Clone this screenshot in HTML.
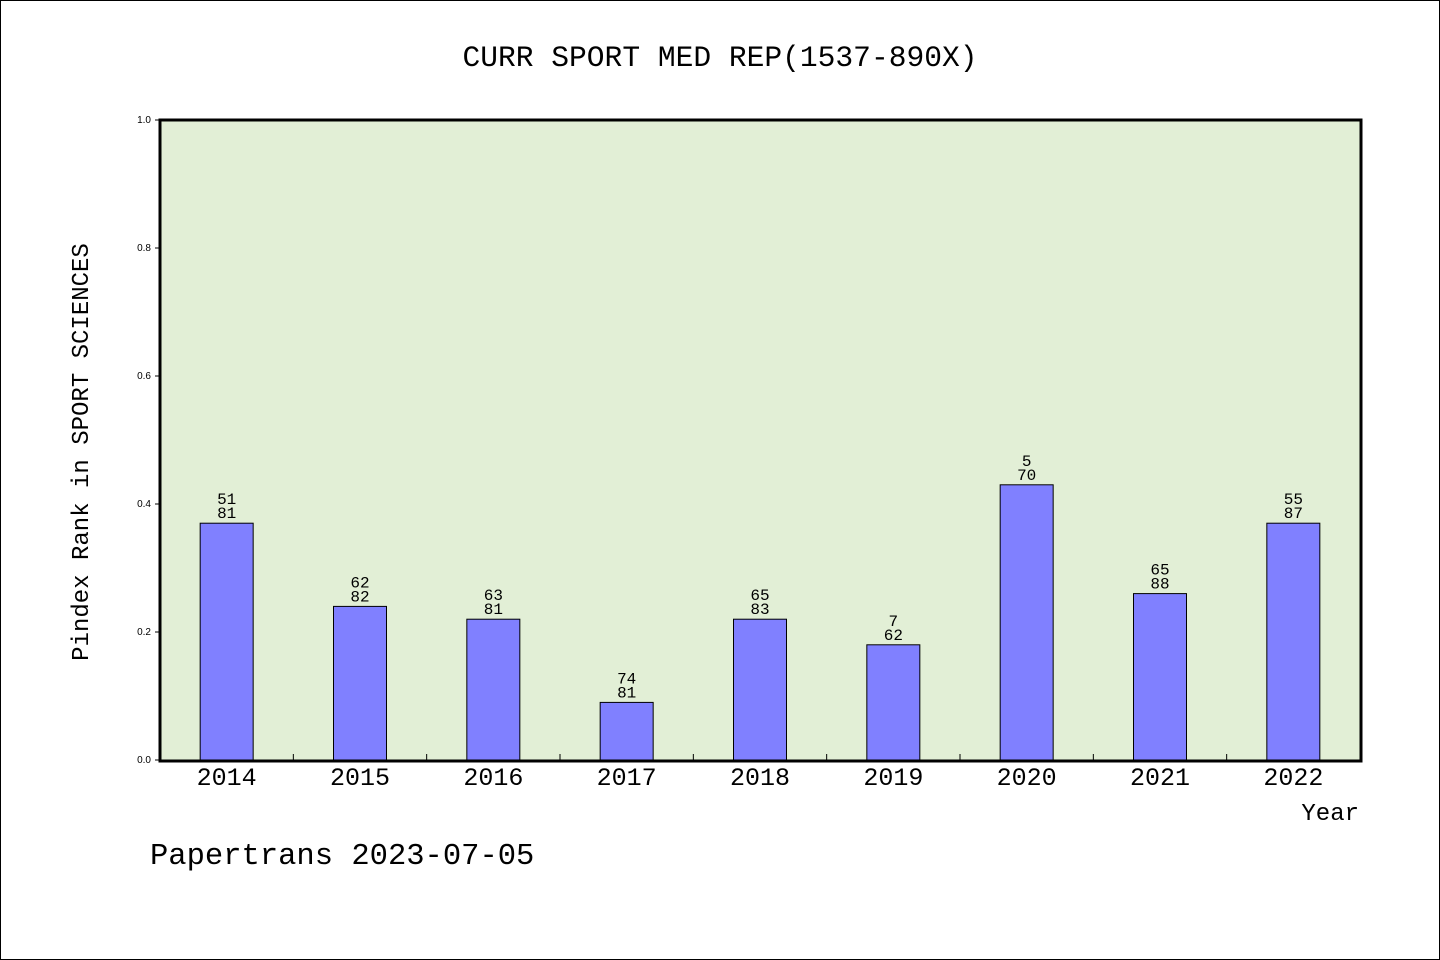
<!DOCTYPE html>
<html><head><meta charset="utf-8"><style>
html,body{margin:0;padding:0;background:#fff}
svg{display:block;font-family:"WenQuanYi Zen Hei Mono","WenQuanYi Zen Hei","Liberation Mono",monospace}
</style></head><body>
<svg id="c" width="1440" height="960" xmlns="http://www.w3.org/2000/svg">
<rect x="0.5" y="0.5" width="1439" height="959" fill="#fff" stroke="#000"/>
<text x="720" y="66" font-size="29.6" text-anchor="middle">CURR SPORT MED REP(1537-890X)</text>
<rect x="160" y="120" width="1201" height="641" fill="#e2efd6"/>
<g id="marks"></g>
<rect x="160" y="120" width="1201" height="641" fill="none" stroke="#000" stroke-width="3"/>
<text transform="translate(88,452) rotate(-90)" font-size="24" text-anchor="middle">Pindex Rank in SPORT SCIENCES</text>
<text x="1359" y="820" font-size="24" text-anchor="end">Year</text>
<text x="150" y="864" font-size="30.5">Papertrans 2023-07-05</text>
</svg>
<script>
const categories=["2014","2015","2016","2017","2018","2019","2020","2021","2022"];
const values=[0.37,0.24,0.22,0.09,0.22,0.18,0.43,0.26,0.37];
const topLabels=["51","62","63","74","65","7","5","65","55"];
const bottomLabels=["81","82","81","81","83","62","70","88","87"];
const yTicks=[0,0.2,0.4,0.6,0.8,1.0];
const tickLabels=["0.0","0.2","0.4","0.6","0.8","1.0"];
const NS="http://www.w3.org/2000/svg";
const X0=160,X1=1360,Y0=760,Y1=120;
const band=(X1-X0)/categories.length;
const xc=i=>X0+band*(i+0.5);
const y=v=>Y0-(v/1)*(Y0-Y1);
const g=document.getElementById('marks');
function mk(t,a){const e=document.createElementNS(NS,t);for(const k in a)e.setAttribute(k,a[k]);g.appendChild(e);return e;}
yTicks.forEach((v,i)=>{
  const l=mk('line',{x1:155,x2:160,y1:y(v),y2:y(v),stroke:'#000','stroke-width':1});
  
  
  const t=mk('text',{x:151,y:y(v)+3,'font-size':10,'text-anchor':'end','font-family':'Liberation Sans, sans-serif'});t.textContent=tickLabels[i];
  
  
});
for(let i=1;i<categories.length;i++){
  const l=mk('line',{x1:X0+band*i,x2:X0+band*i,y1:Y0,y2:Y0-6,stroke:'#000','stroke-width':1});
  
  
}
categories.forEach((c,i)=>{
  const bw=53,cx=xc(i);
  const r=mk('rect',{x:cx-bw/2,y:y(values[i]),width:bw,height:Y0-y(values[i]),fill:'#8080ff',stroke:'#000','stroke-width':1});
  
  
  const t1=mk('text',{x:cx,y:y(values[i])-19,'font-size':16,'text-anchor':'middle'});t1.textContent=topLabels[i];
  
  
  const t2=mk('text',{x:cx,y:y(values[i])-5,'font-size':16,'text-anchor':'middle'});t2.textContent=bottomLabels[i];
  
  
  const xl=mk('text',{x:cx,y:785,'font-size':25,'text-anchor':'middle'});xl.textContent=c;
  
  
});
</script>
</body></html>
